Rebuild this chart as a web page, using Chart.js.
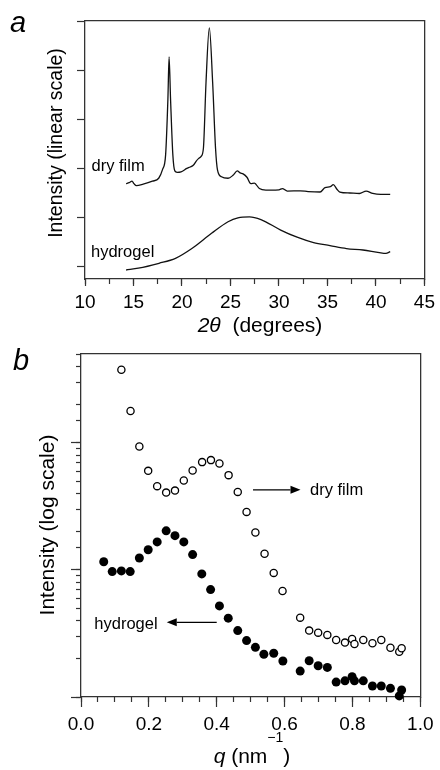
<!DOCTYPE html>
<html>
<head>
<meta charset="utf-8">
<script src="https://cdn.jsdelivr.net/npm/chart.js@4.4.1/dist/chart.umd.min.js"></script>
<style>
  html, body { margin: 0; padding: 0; background: #fff; }
  #wrap { position: relative; width: 440px; height: 770px; overflow: hidden; }
  #chart-a { position: absolute; left: 0; top: 0; }
  #chart-b { position: absolute; left: 0; top: 345px; }
</style>
</head>
<body>
<div id="wrap">
  <canvas id="chart-a" width="440" height="345"></canvas>
  <canvas id="chart-b" width="440" height="425"></canvas>
</div>
<script>
// ── panel a: difraccion (2theta vs intensidad, escala lineal) ──
var dryAngle = [14.24, 14.55, 14.85, 15.05, 15.3, 16.0, 16.95, 17.6, 18.0, 18.31, 18.55, 18.67, 18.82, 19.06, 19.26,
    19.5, 19.9, 20.5, 20.85, 21.19, 21.47, 21.7, 21.96, 22.21, 22.48, 22.82, 23.16, 23.46, 23.66, 24.07, 24.75,
    25.26, 25.7, 26.0, 26.3, 26.7, 27.1, 27.47, 27.98, 28.65, 29.16, 30.0, 30.35, 30.86, 32.2, 33.0, 34.24, 34.75,
    35.3, 35.6, 36.0, 36.28, 37.3, 38.3, 38.99, 39.67, 40.5, 41.47];
var dryInt = [1.69, 1.71, 1.74, 1.69, 1.65, 1.68, 1.74, 1.80, 1.98, 2.27, 3.42, 4.27, 3.42, 2.27, 1.95,
    1.92, 1.93, 2.0, 2.03, 2.07, 2.15, 2.2, 2.24, 2.41, 3.76, 4.86, 3.76, 2.41, 1.97, 1.83, 1.80,
    1.86, 1.95, 1.91, 1.89, 1.82, 1.69, 1.70, 1.59, 1.56, 1.56, 1.565, 1.59, 1.54, 1.545, 1.53, 1.52, 1.61,
    1.63, 1.67, 1.57, 1.52, 1.50, 1.49, 1.54, 1.49, 1.47, 1.47];
var gelAngle = [14.24, 15.5, 17.63, 19.33, 21.02, 23.05, 24.75, 25.77, 26.96, 28.14, 30.18, 31.87, 33.57, 35.26,
    36.96, 38.66, 40.35, 41.03, 41.47];
var gelInt = [-0.067, -0.03, 0.07, 0.17, 0.37, 0.68, 0.915, 0.996, 1.016, 0.96, 0.746, 0.60, 0.49, 0.43,
    0.37, 0.34, 0.285, 0.27, 0.305];
var angleTicks = [10, 15, 20, 25, 30, 35, 40, 45];
var linTicks = [0, 1, 2, 3, 4, 5];

// ── panel b: SAXS (q vs intensidad, escala log) ──
var qDry = [0.119, 0.146, 0.172, 0.198, 0.2245, 0.251, 0.277, 0.303, 0.329, 0.357, 0.383, 0.408, 0.435, 0.462,
    0.488, 0.514, 0.541, 0.568, 0.594, 0.646, 0.6725, 0.699, 0.726, 0.752, 0.778, 0.799, 0.806, 0.832, 0.859,
    0.885, 0.912, 0.938, 0.945];
var iDry = [376, 178, 93.5, 60.2, 45.6, 40.6, 42.1, 50.5, 60.5, 70.5, 73.1, 68.7, 55.7, 41.1,
    28.6, 19.7, 13.4, 9.47, 6.83, 4.21, 3.33, 3.21, 3.08, 2.81, 2.68, 2.86, 2.61, 2.81, 2.65,
    2.81, 2.44, 2.27, 2.42];
var qGel = [0.067, 0.092, 0.119, 0.145, 0.172, 0.198, 0.2245, 0.251, 0.277, 0.303, 0.329, 0.356, 0.382, 0.408,
    0.434, 0.462, 0.488, 0.514, 0.539, 0.568, 0.595, 0.646, 0.6725, 0.699, 0.726, 0.752, 0.778, 0.799, 0.806,
    0.832, 0.859, 0.885, 0.912, 0.938, 0.945];
var iGel = [11.6, 9.70, 9.82, 9.70, 12.4, 14.4, 16.6, 20.3, 18.6, 16.6, 13.2, 9.30, 7.0, 5.21,
    4.17, 3.33, 2.78, 2.46, 2.17, 2.21, 1.92, 1.60, 1.93, 1.76, 1.71, 1.31, 1.34, 1.445, 1.34,
    1.34, 1.22, 1.22, 1.17, 1.02, 1.135];
var qTicks = [0, 0.2, 0.4, 0.6, 0.8, 1.0];
var logTicks = [1, 10, 100];

var FONT = '"Liberation Sans", Arial, Helvetica, sans-serif';
var AXIS = '#333';
Chart.defaults.font.family = FONT;
Chart.defaults.color = '#000';

function pts(xs, ys) {
    return xs.map(function(x, i) { return { x: x, y: ys[i] }; });
}

function fixTicks(list) {
    return function(ax) { ax.ticks = list.map(function(v) { return { value: v }; }); };
}

// eje solo para dibujar marcas (sin etiquetas), con alto/ancho cero
function tickAxis(pos, type, min, max, len, extra) {
    var o = {
        type: type, position: pos, min: min, max: max, weight: 0,
        ticks: { display: false },
        grid: { drawOnChartArea: false, tickLength: len, tickColor: AXIS, tickWidth: 1.2 },
        border: { display: false },
        afterFit: function(ax) { if (pos === 'left' || pos === 'right') ax.width = 0; else ax.height = 0; }
    };
    if (extra) Object.keys(extra).forEach(function(k) { o.ticks[k] = extra[k]; });
    return o;
}

// borde superior / derecho del marco
function frameAxis(pos, type, min, max) {
    return {
        type: type, position: pos, min: min, max: max,
        ticks: { display: false },
        grid: { display: false, drawTicks: false },
        border: { display: true, color: AXIS, width: 1.3 },
        afterFit: function(ax) { if (pos === 'right') ax.width = 0; else ax.height = 0; }
    };
}

function drawRich(ctx, parts, cx, baseline) {
    var total = 0;
    parts.forEach(function(p) { ctx.font = p.font; total += ctx.measureText(p.text).width; });
    var x = cx - total / 2;
    ctx.textAlign = 'left';
    ctx.textBaseline = 'alphabetic';
    parts.forEach(function(p) {
        ctx.font = p.font;
        ctx.fillText(p.text, x, baseline + (p.dy || 0));
        x += ctx.measureText(p.text).width;
    });
}

function drawVertical(ctx, text, font, cx, cy) {
    ctx.save();
    ctx.translate(cx, cy);
    ctx.rotate(-Math.PI / 2);
    ctx.font = font;
    ctx.textAlign = 'center';
    ctx.textBaseline = 'middle';
    ctx.fillText(text, 0, 0);
    ctx.restore();
}

function arrow(ctx, x1, x2, y) {
    var dir = x2 > x1 ? 1 : -1, head = 10;
    ctx.lineWidth = 1.3;
    ctx.beginPath();
    ctx.moveTo(x1, y);
    ctx.lineTo(x2 - dir * head, y);
    ctx.stroke();
    ctx.beginPath();
    ctx.moveTo(x2, y);
    ctx.lineTo(x2 - dir * head, y - 4);
    ctx.lineTo(x2 - dir * head, y + 4);
    ctx.closePath();
    ctx.fill();
}

var labelFont = '16.5px ' + FONT;

// ── textos panel a ──
var textosA = {
    id: 'textosA',
    afterDraw: function(chart) {
        var ctx = chart.ctx;
        ctx.save();
        ctx.fillStyle = '#000';
        ctx.textAlign = 'left';
        ctx.textBaseline = 'alphabetic';
        ctx.font = 'italic 29px ' + FONT;
        ctx.fillText('a', 10, 32);
        ctx.font = labelFont;
        ctx.fillText('dry film', 91.5, 171);
        ctx.fillText('hydrogel', 91, 257);
        drawVertical(ctx, 'Intensity (linear scale)', '19.5px ' + FONT, 57, 143);
        drawRich(ctx, [
            { text: '2\u03B8', font: 'italic 21px ' + FONT },
            { text: '  (degrees)', font: '21px ' + FONT }
        ], 260, 331.5);
        ctx.restore();
    }
};

// ── textos panel b ──
var textosB = {
    id: 'textosB',
    afterDraw: function(chart) {
        var ctx = chart.ctx, xs = chart.scales.x, ys = chart.scales.y;
        ctx.save();
        ctx.fillStyle = '#000';
        ctx.strokeStyle = '#000';
        ctx.textAlign = 'left';
        ctx.textBaseline = 'alphabetic';
        ctx.font = 'italic 29px ' + FONT;
        ctx.fillText('b', 13, 25);
        ctx.font = labelFont;
        ctx.fillText('dry film', 310, 149.5);
        ctx.fillText('hydrogel', 94.3, 283.5);
        arrow(ctx, xs.getPixelForValue(0.507), xs.getPixelForValue(0.647), ys.getPixelForValue(42.7));
        arrow(ctx, xs.getPixelForValue(0.40), xs.getPixelForValue(0.2527), ys.getPixelForValue(3.87));
        drawVertical(ctx, 'Intensity (log scale)', '21px ' + FONT, 48, 180);
        drawRich(ctx, [
            { text: 'q', font: 'italic 21px ' + FONT },
            { text: ' (nm', font: '21px ' + FONT },
            { text: '\u22121', font: '14px ' + FONT, dy: -21.5 },
            { text: ')', font: '21px ' + FONT }
        ], 252, 418.3);
        ctx.restore();
    }
};

var tickFont = { family: FONT, size: 19 };

window.chartA = new Chart(document.getElementById('chart-a'), {
    type: 'scatter',
    data: {
        datasets: [{
            data: pts(dryAngle, dryInt),
            showLine: true, borderColor: '#111', borderWidth: 1.3,
            pointRadius: 0, cubicInterpolationMode: 'monotone', fill: false
        }, {
            data: pts(gelAngle, gelInt),
            showLine: true, borderColor: '#111', borderWidth: 1.3,
            pointRadius: 0, cubicInterpolationMode: 'monotone', fill: false
        }]
    },
    options: {
        responsive: false, animation: false,
        layout: { padding: { top: 21, right: 11, left: 0, bottom: 0 } },
        plugins: { legend: { display: false }, tooltip: { enabled: false } },
        scales: {
            x: {
                type: 'linear', position: 'bottom', weight: 1, min: 10, max: 45,
                afterBuildTicks: fixTicks(angleTicks),
                afterFit: function(ax) { ax.height = 66; },
                ticks: { padding: 5, font: tickFont, color: '#000', maxRotation: 0, autoSkip: false,
                         callback: function(v) { return String(v); } },
                grid: { drawOnChartArea: false, tickLength: 7, tickColor: AXIS, tickWidth: 1.2 },
                border: { color: AXIS, width: 1.3 }
            },
            xMinor: tickAxis('bottom', 'linear', 10, 45, 5, { stepSize: 2.5 }),
            xTop: frameAxis('top', 'linear', 10, 45),
            y: {
                type: 'linear', position: 'left', weight: 1, min: -0.25, max: 5,
                afterBuildTicks: fixTicks(linTicks),
                afterFit: function(ax) { ax.width = 85; },
                ticks: { display: false },
                grid: { drawOnChartArea: false, tickLength: 8, tickColor: AXIS, tickWidth: 1.2 },
                border: { color: AXIS, width: 1.3 }
            },
            yRight: frameAxis('right', 'linear', -0.25, 5)
        }
    },
    plugins: [textosA]
});

window.chartB = new Chart(document.getElementById('chart-b'), {
    type: 'scatter',
    data: {
        datasets: [{
            data: pts(qDry, iDry),
            pointRadius: 3.6, pointBorderWidth: 1.3,
            pointBackgroundColor: '#fff', pointBorderColor: '#000', clip: false
        }, {
            data: pts(qGel, iGel),
            pointRadius: 4.5, pointBorderWidth: 0,
            pointBackgroundColor: '#000', pointBorderColor: '#000', clip: false
        }]
    },
    options: {
        responsive: false, animation: false,
        layout: { padding: { top: 9, right: 16, left: 0, bottom: 0 } },
        plugins: { legend: { display: false }, tooltip: { enabled: false } },
        scales: {
            x: {
                type: 'linear', position: 'bottom', weight: 1, min: 0, max: 1,
                afterBuildTicks: fixTicks(qTicks),
                afterFit: function(ax) { ax.height = 73; },
                ticks: { padding: 6.5, font: tickFont, color: '#000', maxRotation: 0, autoSkip: false,
                         callback: function(v) { return Number(v).toFixed(1); } },
                grid: { drawOnChartArea: false, tickLength: 10, tickColor: AXIS, tickWidth: 1.2 },
                border: { color: AXIS, width: 1.3 }
            },
            xMinor: tickAxis('bottom', 'linear', 0, 1, 5, { stepSize: 0.05 }),
            xTop: frameAxis('top', 'linear', 0, 1),
            y: {
                type: 'logarithmic', position: 'left', weight: 1, min: 1, max: 500,
                afterBuildTicks: fixTicks(logTicks),
                afterFit: function(ax) { ax.width = 81; },
                ticks: { display: false },
                grid: { drawOnChartArea: false, tickLength: 10, tickColor: AXIS, tickWidth: 1.2 },
                border: { color: AXIS, width: 1.3 }
            },
            yMinor: tickAxis('left', 'logarithmic', 1, 500, 5),
            yRight: frameAxis('right', 'logarithmic', 1, 500)
        }
    },
    plugins: [textosB]
});
</script>
</body>
</html>
